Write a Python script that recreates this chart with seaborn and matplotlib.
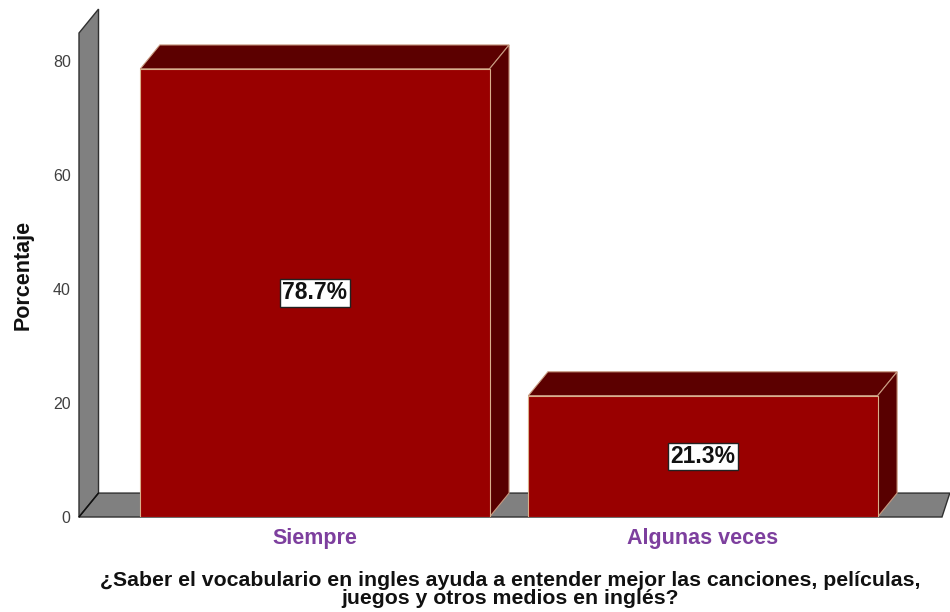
import matplotlib
matplotlib.use('Agg')
import matplotlib.pyplot as plt
from matplotlib.patches import Polygon
import seaborn as sns

categorias = ['Siempre', 'Algunas veces']
porcentajes = [78.7, 21.3]
etiquetas = ['78.7%', '21.3%']
y_ticks = [0, 20, 40, 60, 80]

sns.set_style('white')
plt.rcParams['font.family'] = ['Liberation Sans', 'DejaVu Sans']

fig = plt.figure(figsize=(9.5, 6.12), dpi=100)
ax = fig.add_axes([79 / 950, 1 - 517 / 612, 863 / 950, 484 / 612])

sns.barplot(x=categorias, y=porcentajes, color='#990000', width=0.9,
            edgecolor='#d9b08c', linewidth=0.8, saturation=1, ax=ax, zorder=3)

xmin, xmax = -0.608, 1.616
ymax = 85
ax.set_xlim(xmin, xmax)
ax.set_ylim(0, ymax)

# profundidad del efecto 3D (en unidades de datos)
dx, dy = 0.0503, 4.2

# pared izquierda y piso
pared = Polygon([(xmin, 0), (xmin, ymax), (xmin + dx, ymax + dy), (xmin + dx, dy)],
                closed=True, fc='#808080', ec='#303030', lw=1, clip_on=False, zorder=1)
piso = Polygon([(xmin, 0), (xmax, 0), (xmax + dx * 0.4, dy), (xmin + dx, dy)],
               closed=True, fc='#808080', ec='#303030', lw=1, clip_on=False, zorder=1)
ax.add_patch(pared)
ax.add_patch(piso)
ax.plot([xmin, xmin + dx], [0, dy], color='#101010', lw=1, clip_on=False, zorder=2)

# caras superior y lateral de cada barra
for bar, txt in zip(ax.patches[:len(porcentajes)], etiquetas):
    x0 = bar.get_x()
    x1 = x0 + bar.get_width()
    h = bar.get_height()
    top = Polygon([(x0, h), (x1, h), (x1 + dx, h + dy), (x0 + dx, h + dy)],
                  closed=True, fc='#5c0000', ec='#c89a80', lw=0.8, clip_on=False, zorder=2)
    side = Polygon([(x1, 0), (x1, h), (x1 + dx, h + dy), (x1 + dx, dy)],
                   closed=True, fc='#580000', ec='#c89a80', lw=0.8, clip_on=False, zorder=2)
    ax.add_patch(top)
    ax.add_patch(side)
    ax.text(x0 + bar.get_width() / 2, h / 2, txt, ha='center', va='center',
            fontsize=16.5, fontweight='bold', color='#111111', zorder=5,
            bbox=dict(boxstyle='square,pad=0.1', fc='white', ec='#222222', lw=1))

sns.despine(ax=ax, left=True, bottom=True)
ax.set_yticks(y_ticks)
ax.set_yticklabels([str(t) for t in y_ticks], fontsize=11.5, color='#404040')
ax.tick_params(axis='y', length=0, pad=6)
ax.tick_params(axis='x', length=0, pad=8)
for lbl in ax.get_xticklabels():
    lbl.set_fontsize(15.5)
    lbl.set_fontweight('bold')
    lbl.set_color('#7d3f9e')

ax.set_ylabel('Porcentaje', fontsize=15.5, fontweight='bold', color='#111111')
ax.yaxis.set_label_coords(-0.053, 0.5)
ax.set_xlabel('¿Saber el vocabulario en ingles ayuda a entender mejor las canciones, películas,\n'
              'juegos y otros medios en inglés?', fontsize=15.3, fontweight='bold',
              color='#111111', linespacing=0.95)
ax.xaxis.set_label_coords(0.5, -0.111)
ax.xaxis.label.set_va('top')

plt.savefig('out.png', dpi=100)
